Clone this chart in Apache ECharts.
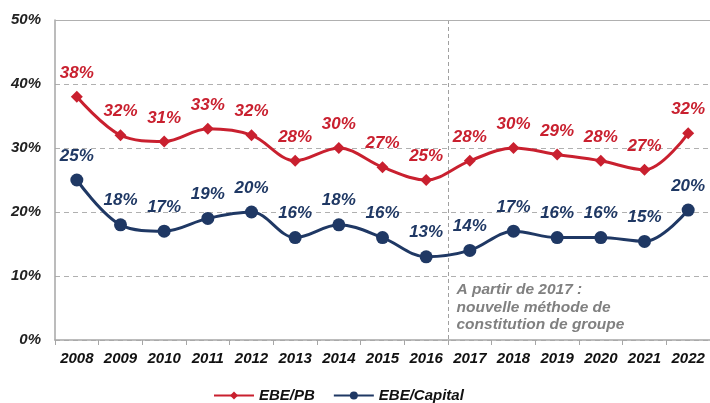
<!DOCTYPE html>
<html lang="fr">
<head>
<meta charset="UTF-8">
<title>EBE</title>
<script src="https://cdn.jsdelivr.net/npm/echarts@6/dist/echarts.min.js"></script>
<style>
	html, body { margin: 0; padding: 0; background: #fff; }
	#main { width: 710px; height: 403px; }
</style>
</head>
<body>
<div id="main"></div>
<script type="text/javascript">
	var years = ['2008', '2009', '2010', '2011', '2012', '2013', '2014', '2015', '2016', '2017', '2018', '2019', '2020', '2021', '2022'];
	var ebePb = [38, 32, 31, 33, 32, 28, 30, 27, 25, 28, 30, 29, 28, 26.6, 32.3];
	var ebeCapital = [25, 18, 17, 19, 20, 16, 18, 16, 13, 14, 17, 16, 16, 15.4, 20.3];
	var noteLines = ['A partir de 2017 :', 'nouvelle méthode de', 'constitution de groupe'];

	var red = '#c9202f';
	var blue = '#1f3864';
	var font = 'Liberation Sans, Arial, sans-serif';

	var myChart = echarts.init(document.getElementById('main'));

	var labelStyle = function (color) {
		return {
			show: true,
			position: 'top',
			distance: 9,
			color: color,
			fontFamily: font,
			fontSize: 17,
			fontWeight: 'bold',
			fontStyle: 'italic',
			formatter: function (p) { return Math.round(p.value) + '%'; }
		};
	};

	var option = {
		animation: false,
		grid: { left: 55, right: 0, top: 20, bottom: 63 },
		legend: {
			top: 388,
			left: 213,
			padding: 0,
			itemWidth: 40,
			itemHeight: 10,
			itemGap: 18,
			textStyle: { fontFamily: font, fontSize: 15, fontWeight: 'bold', fontStyle: 'italic', color: '#111' },
			data: ['EBE/PB', 'EBE/Capital']
		},
		xAxis: {
			type: 'category',
			data: years,
			boundaryGap: true,
			axisLine: { lineStyle: { color: '#a6a6a6', width: 1.5 } },
			axisTick: { show: true, length: 5, lineStyle: { color: '#a6a6a6' } },
			axisLabel: { color: '#111', fontFamily: font, fontSize: 15, fontWeight: 'bold', fontStyle: 'italic', margin: 11 }
		},
		yAxis: {
			type: 'value',
			min: 0,
			max: 50,
			interval: 10,
			axisLine: { show: true, lineStyle: { color: '#a6a6a6', width: 1.5 } },
			axisTick: { show: false },
			axisLabel: { color: '#222', fontFamily: font, fontSize: 15, fontWeight: 'bold', fontStyle: 'italic', formatter: '{value}%', margin: 14 },
			splitLine: { lineStyle: { color: '#b0b0b0', type: [5, 4], width: 1 } }
		},
		series: [{
			name: 'EBE/PB',
			type: 'line',
			data: ebePb,
			smooth: 0.35,
			symbol: 'diamond',
			symbolSize: 12,
			color: red,
			lineStyle: { width: 3, color: red },
			itemStyle: { color: red },
			label: labelStyle(red),
			z: 3
		}, {
			name: 'EBE/Capital',
			type: 'line',
			data: ebeCapital,
			smooth: 0.35,
			symbol: 'circle',
			symbolSize: 13,
			color: blue,
			lineStyle: { width: 3, color: blue },
			itemStyle: { color: blue },
			label: labelStyle(blue),
			z: 3
		}]
	};

	myChart.setOption(option);

	// ligne verticale entre 2016 et 2017 + note
	var x1 = myChart.convertToPixel({ xAxisIndex: 0 }, '2016');
	var x2 = myChart.convertToPixel({ xAxisIndex: 0 }, '2017');
	var xs = Math.round((x1 + x2) / 2) + 0.5;
	var yTop = myChart.convertToPixel({ yAxisIndex: 0 }, 50);
	var yBot = myChart.convertToPixel({ yAxisIndex: 0 }, 0);

	myChart.setOption({
		graphic: [{
			type: 'line',
			shape: { x1: xs, y1: yTop, x2: xs, y2: yBot },
			style: { stroke: '#a0a0a0', lineWidth: 1, lineDash: [4, 3] },
			z: 1
		}, {
			type: 'line',
			shape: { x1: 55, y1: yTop + 0.5, x2: 710, y2: yTop + 0.5 },
			style: { stroke: '#b0b0b0', lineWidth: 1 },
			z: 1
		}, {
			type: 'text',
			x: xs + 8,
			y: 281,
			style: {
				text: noteLines.join('\n'),
				fill: '#808080',
				font: 'italic bold 15.5px ' + font,
				lineHeight: 17.5
			},
			z: 5
		}]
	});
</script>
</body>
</html>
